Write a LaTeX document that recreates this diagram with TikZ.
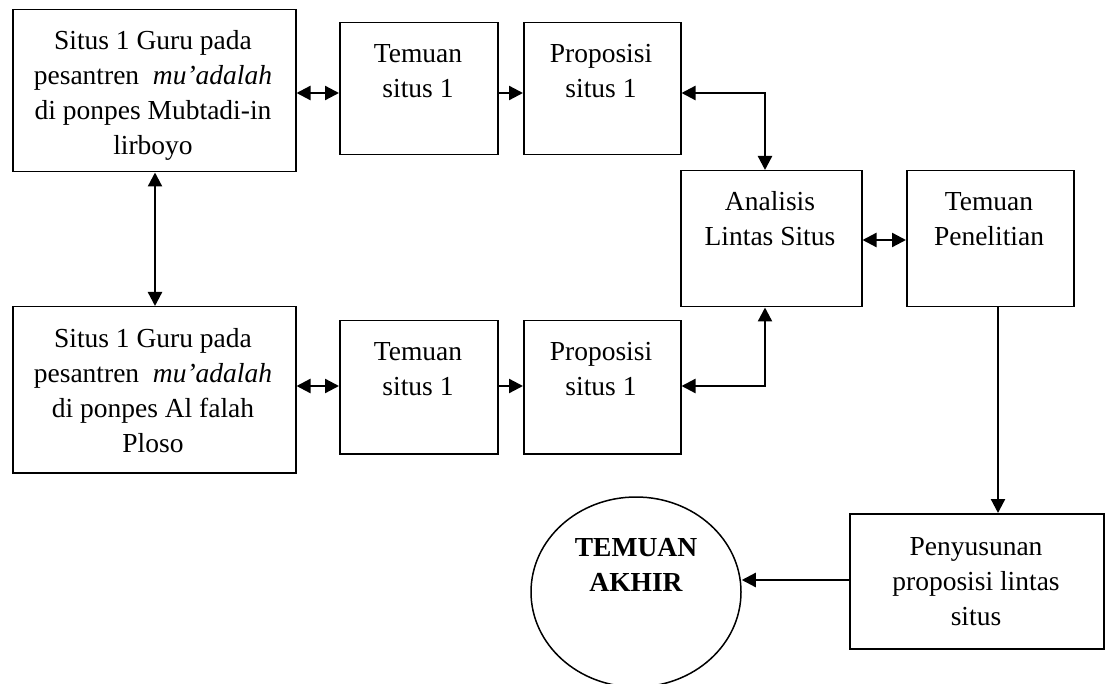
\documentclass[tikz,border=0pt]{standalone}
\usepackage{fontspec}
\setmainfont{Liberation Serif}
\usetikzlibrary{arrows.meta,calc,shapes.geometric}
\begin{document}
\begin{tikzpicture}[x=1pt,y=-1pt,
  box/.style={draw,line width=1.5pt,inner sep=0pt,anchor=north west},
  txt/.style={align=center,inner sep=0pt,font=\fontsize{27.5}{35}\selectfont},
  conn/.style={line width=2.3pt},
  tip/.style={-{Triangle[length=14pt,width=14pt]}},
  tips/.style={{Triangle[length=14pt,width=14pt]}-{Triangle[length=14pt,width=14pt]}}
]
\useasboundingbox (0,0) rectangle (1105,684);
% boxes
\node[box,minimum width=283pt,minimum height=162pt] (b1) at (12,9) {};
\node[box,minimum width=158pt,minimum height=132pt] (t1) at (339,22) {};
\node[box,minimum width=157pt,minimum height=132pt] (p1) at (523,22) {};
\node[box,minimum width=181pt,minimum height=136pt] (an) at (680,170) {};
\node[box,minimum width=167pt,minimum height=136pt] (tp) at (906,170) {};
\node[box,minimum width=283pt,minimum height=166pt] (b2) at (12,306) {};
\node[box,minimum width=158pt,minimum height=133pt] (t2) at (339,320) {};
\node[box,minimum width=157pt,minimum height=133pt] (p2) at (523,320) {};
\node[box,minimum width=254pt,minimum height=135pt] (pe) at (849,513) {};
\node[draw,line width=1.5pt,ellipse,minimum width=210pt,minimum height=190pt,inner sep=0pt] (circ) at (636,592) {};
% texts
\node[txt] (b1t) at (153,95) {Situs 1 Guru pada\\pesantren \ \textit{mu’adalah}\\di ponpes Mubtadi-in\\lirboyo};
\node[txt] (t1t) at (418,71) {Temuan\\situs 1};
\node[txt] (p1t) at (601,71) {Proposisi\\situs 1};
\node[txt] (ant) at (770,219) {Analisis\\Lintas Situs};
\node[txt] (tpt) at (989,219) {Temuan\\Penelitian};
\node[txt] (b2t) at (153,391) {Situs 1 Guru pada\\pesantren \ \textit{mu’adalah}\\di ponpes Al falah\\Ploso};
\node[txt] (t2t) at (418,369) {Temuan\\situs 1};
\node[txt] (p2t) at (601,369) {Proposisi\\situs 1};
\node[txt] (pet) at (976,582) {Penyusunan\\proposisi lintas\\situs};
\node[txt,font=\fontsize{27.5}{35}\selectfont\bfseries] (ct) at (636,565) {TEMUAN\\AKHIR};
% helper coordinates
\coordinate (r1) at (0,93);
\coordinate (r2) at (0,386);
\coordinate (cx) at (765,93);
\coordinate (cy) at (765,386);
\coordinate (dx) at (998,0);
\coordinate (ex) at (0,580);
\coordinate (ae) at (0,240);
\coordinate (vx) at (155,0);
% connectors
\draw[conn,tips] (b1.east |- r1) -- (t1.west |- r1);
\draw[conn,tip] (t1.east |- r1) -- (p1.west |- r1);
\draw[conn,tips] (p1.east |- cx) -- (cx) -- (an.north -| cx);
\draw[conn,tips] (b1.south -| vx) -- (b2.north -| vx);
\draw[conn,tips] (an.east |- ae) -- (tp.west |- ae);
\draw[conn,tip] (tp.south -| dx) -- (pe.north -| dx);
\draw[conn,tips] (b2.east |- r2) -- (t2.west |- r2);
\draw[conn,tip] (t2.east |- r2) -- (p2.west |- r2);
\draw[conn,tips] (p2.east |- cy) -- (cy) -- (an.south -| cy);
\draw[conn,tip] (pe.west |- ex) -- (circ.east |- ex);
\end{tikzpicture}
\end{document}
